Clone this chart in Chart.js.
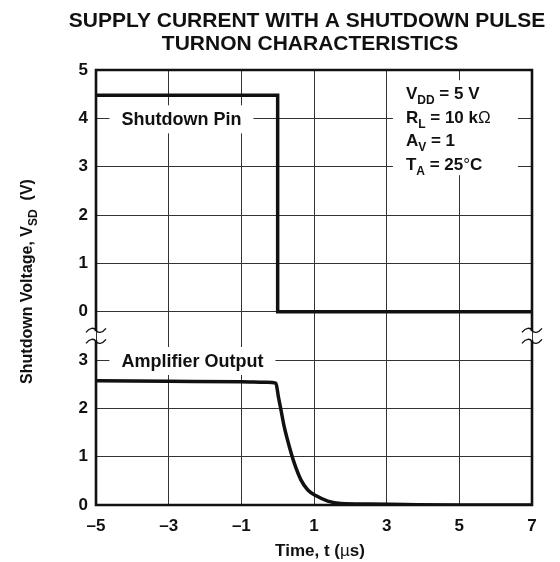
<!DOCTYPE html>
<html>
<head>
<meta charset="utf-8">
<script src="https://cdn.jsdelivr.net/npm/chart.js@4.4.1/dist/chart.umd.min.js"></script>
<style>
  html, body { margin: 0; padding: 0; background: #fff; }
  #wrap { width: 560px; height: 562px; }
</style>
</head>
<body>
<div id="wrap"><canvas id="chart" width="560" height="562"></canvas></div>
<script>
// values
const TIME_SD = [-5, 0, 0, 7];
const VOLT_SD = [4.48, 4.48, 0, 0];
const TIME_AMP = [-5, -3, -1, -0.3, -0.05, 0.02, 0.09, 0.18, 0.32, 0.46, 0.64, 0.83, 1.06, 1.38, 1.74, 2.5, 3.5, 5, 7];
const VOLT_AMP = [2.57, 2.56, 2.55, 2.54, 2.52, 2.24, 1.97, 1.62, 1.21, 0.86, 0.52, 0.31, 0.19, 0.08, 0.03, 0.02, 0.01, 0, 0];

const X_TICKS = [-5, -3, -1, 1, 3, 5, 7];
const Y_TICKS_LOW = [0, 1, 2, 3];
const Y_TICKS_HIGH = [0, 1, 2, 3, 4, 5];
const BREAK = 4; // upper (shutdown pin) panel sits 4 units above the lower one

const FONT = '"Liberation Sans", Arial, Helvetica, sans-serif';
const INK = '#111';

function fontFor(kind, size) {
    if (kind === 'sub') return 'bold ' + Math.round(size * 0.72) + 'px ' + FONT;
    if (kind === 'sym') return size + 'px ' + FONT;
    return 'bold ' + size + 'px ' + FONT;
}

function richWidth(ctx, parts, size) {
    let w = 0;
    parts.forEach(p => { ctx.font = fontFor(p[1], size); w += ctx.measureText(p[0]).width; });
    return w;
}

// draws text made of pieces, some as subscripts
function drawRich(ctx, parts, x, y, size, align) {
    const w = richWidth(ctx, parts, size);
    let cx = align === 'center' ? x - w / 2 : x;
    ctx.textAlign = 'left';
    ctx.textBaseline = 'alphabetic';
    parts.forEach(p => {
        ctx.font = fontFor(p[1], size);
        const dy = p[1] === 'sub' ? size * 0.3 : 0;
        ctx.fillText(p[0], cx, y + dy);
        cx += ctx.measureText(p[0]).width;
    });
    return w;
}

function tilde(ctx, x, y) {
    ctx.beginPath();
    ctx.moveTo(x - 10, y + 2);
    ctx.bezierCurveTo(x - 6, y - 3, x - 2, y - 3, x, y);
    ctx.bezierCurveTo(x + 2, y + 3, x + 6, y + 3, x + 10, y - 2);
    ctx.stroke();
}

const LABELS = [
    { text: 'Shutdown Pin', t: -4.3, v: 8 },
    { text: 'Amplifier Output', t: -4.3, v: 3 }
];
const PARAMS = [
    [['V', ''], ['DD', 'sub'], [' = 5 V', '']],
    [['R', ''], ['L', 'sub'], [' = 10 k', ''], ['\u03A9', 'sym']],
    [['A', ''], ['V', 'sub'], [' = 1', '']],
    [['T', ''], ['A', 'sub'], [' = 25', ''], ['\u00B0', 'sym'], ['C', '']]
];

const decor = {
    id: 'decor',
    beforeDatasetsDraw(chart) {
        const ctx = chart.ctx, xs = chart.scales.x, ys = chart.scales.y;
        ctx.save();
        ctx.fillStyle = '#fff';
        // white boxes hide the grid behind the labels
        LABELS.forEach(l => {
            ctx.font = fontFor('', 18);
            const w = ctx.measureText(l.text).width;
            const px = xs.getPixelForValue(l.t), py = ys.getPixelForValue(l.v);
            ctx.fillRect(px - 12, py - 13, w + 24, 28);
        });
        const bx = xs.getPixelForValue(3.53), by = ys.getPixelForValue(8.52);
        ctx.fillRect(bx - 13, by - 13, 125, 95);
        ctx.restore();
    },
    afterDatasetsDraw(chart) {
        const ctx = chart.ctx, xs = chart.scales.x, ys = chart.scales.y;
        const a = chart.chartArea;
        ctx.save();
        ctx.fillStyle = INK;
        ctx.strokeStyle = INK;

        LABELS.forEach(l => {
            const px = xs.getPixelForValue(l.t), py = ys.getPixelForValue(l.v);
            drawRich(ctx, [[l.text, '']], px, py + 6.5, 18, 'left');
        });

        const bx = xs.getPixelForValue(3.53), by = ys.getPixelForValue(8.52);
        PARAMS.forEach((p, i) => drawRich(ctx, p, bx, by + 6 + i * 23.5, 17, 'left'));

        // frame with the axis break between the two panels
        const gy = ys.getPixelForValue((Y_TICKS_LOW[Y_TICKS_LOW.length - 1] + BREAK) / 2);
        const g1 = gy - 4.5, g2 = gy + 4.5;
        ctx.lineWidth = 2.6;
        ctx.beginPath();
        ctx.moveTo(a.left, g1); ctx.lineTo(a.left, a.top); ctx.lineTo(a.right, a.top); ctx.lineTo(a.right, g1);
        ctx.moveTo(a.left, g2); ctx.lineTo(a.left, a.bottom); ctx.lineTo(a.right, a.bottom); ctx.lineTo(a.right, g2);
        ctx.stroke();
        ctx.lineWidth = 1.4;
        [a.left, a.right].forEach(x => { tilde(ctx, x, g1 - 1); tilde(ctx, x, g2 + 1); });

        // title
        ctx.textAlign = 'center';
        ctx.textBaseline = 'alphabetic';
        ctx.font = 'bold 21px ' + FONT;
        ctx.fillText('SUPPLY CURRENT WITH A SHUTDOWN PULSE', 307, 27);
        ctx.fillText('TURNON CHARACTERISTICS', 310, 50);

        // axis titles
        drawRich(ctx, [['Time, t (', ''], ['\u00B5', 'sym'], ['s)', '']], (a.left + a.right) / 2 + 6, 556, 17, 'center');
        ctx.translate(27, (a.top + a.bottom) / 2 - 6);
        ctx.rotate(-Math.PI / 2);
        drawRich(ctx, [['Shutdown Voltage, V', ''], ['SD', 'sub'], ['  (V)', '']], 0, 5, 16, 'center');
        ctx.restore();
    }
};

const ctx = document.getElementById('chart').getContext('2d');

const chart = new Chart(ctx, {
    type: 'line',
    data: {
        datasets: [
            {
                label: 'Shutdown Pin',
                data: TIME_SD.map((t, i) => ({ x: t, y: VOLT_SD[i] + BREAK })),
                borderColor: INK,
                borderWidth: 3.5,
                pointRadius: 0,
                tension: 0,
                borderJoinStyle: 'miter'
            },
            {
                label: 'Amplifier Output',
                data: TIME_AMP.map((t, i) => ({ x: t, y: VOLT_AMP[i] })),
                borderColor: INK,
                borderWidth: 3.5,
                pointRadius: 0,
                cubicInterpolationMode: 'monotone'
            }
        ]
    },
    options: {
        responsive: false,
        animation: false,
        layout: { padding: { top: 70, right: 28, left: 0, bottom: 0 } },
        plugins: {
            legend: { display: false },
            tooltip: { enabled: false }
        },
        scales: {
            x: {
                type: 'linear',
                min: X_TICKS[0],
                max: X_TICKS[X_TICKS.length - 1],
                afterBuildTicks: s => { s.ticks = X_TICKS.map(v => ({ value: v })); },
                afterFit: s => { s.height = 57; },
                border: { display: false },
                grid: { color: '#333', lineWidth: 1, drawTicks: false },
                ticks: {
                    padding: 11,
                    color: INK,
                    font: { family: FONT, size: 17, weight: 'bold' },
                    callback: v => String(v).replace('-', '\u2013')
                }
            },
            y: {
                min: 0,
                max: BREAK + Y_TICKS_HIGH[Y_TICKS_HIGH.length - 1],
                afterBuildTicks: s => {
                    s.ticks = Y_TICKS_LOW.map(v => ({ value: v }))
                        .concat(Y_TICKS_HIGH.map(v => ({ value: v + BREAK })));
                },
                afterFit: s => { s.width = 96; },
                border: { display: false },
                grid: { color: '#333', lineWidth: 1, drawTicks: false },
                ticks: {
                    padding: 8,
                    color: INK,
                    font: { family: FONT, size: 17, weight: 'bold' },
                    callback: v => String(v >= BREAK ? v - BREAK : v)
                }
            }
        }
    },
    plugins: [decor]
});
</script>
</body>
</html>
